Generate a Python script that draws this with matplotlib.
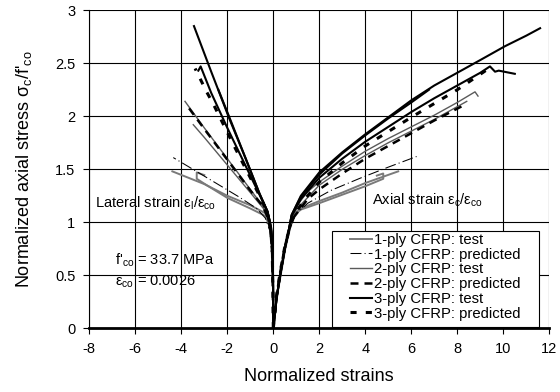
import numpy as np
import matplotlib
matplotlib.use("Agg")
import matplotlib.pyplot as plt
from matplotlib.patches import Rectangle

plt.rcParams['font.family'] = ['Liberation Sans', 'DejaVu Sans']
plt.rcParams['mathtext.fontset'] = 'custom'
plt.rcParams['mathtext.rm'] = 'Liberation Sans'

# Data (normalized strain, normalized stress)
# lateral side (negative strains)
lat_1ply_test_a_x = [0, -0.01, -0.03, -0.07, -0.15, -0.3, -1.0, -2.0, -3.0, -4.39]
lat_1ply_test_a_y = [0, 0.3, 0.6, 0.85, 0.98, 1.08, 1.16, 1.25, 1.36, 1.48]
lat_1ply_test_b_x = [0, -0.01, -0.03, -0.07, -0.18, -0.35, -1.0, -2.0, -2.9, -3.33, -3.33, -3.0]
lat_1ply_test_b_y = [0, 0.3, 0.6, 0.85, 0.97, 1.06, 1.13, 1.23, 1.35, 1.41, 1.47, 1.445]
lat_1ply_pred_x = [0, -0.02, -0.06, -0.15, -0.35, -0.72, -1.5, -2.5, -3.5, -4.35]
lat_1ply_pred_y = [0, 0.35, 0.7, 0.92, 1.04, 1.13, 1.24, 1.37, 1.5, 1.61]

lat_2ply_test_a_x = [0, -0.01, -0.04, -0.1, -0.25, -0.45, -1.0, -2.0, -3.0, -3.84]
lat_2ply_test_a_y = [0, 0.35, 0.7, 0.92, 1.06, 1.15, 1.31, 1.6, 1.89, 2.14]
lat_2ply_test_b_x = [0, -0.01, -0.04, -0.1, -0.25, -0.43, -1.0, -2.0, -3.0, -3.48]
lat_2ply_test_b_y = [0, 0.35, 0.7, 0.92, 1.05, 1.13, 1.28, 1.54, 1.8, 1.92]
lat_2ply_pred_x = [0, -0.02, -0.05, -0.12, -0.25, -0.45, -1.0, -2.0, -3.0, -3.75]
lat_2ply_pred_y = [0, 0.35, 0.7, 0.92, 1.05, 1.15, 1.3, 1.59, 1.88, 2.1]

lat_3ply_test_a_x = [0, -0.01, -0.04, -0.1, -0.25, -0.6, -1.2, -1.88, -2.7, -3.45]
lat_3ply_test_a_y = [0, 0.4, 0.75, 0.95, 1.1, 1.27, 1.6, 1.96, 2.42, 2.85]
lat_3ply_test_b_x = [0, -0.01, -0.04, -0.1, -0.25, -0.6, -1.2, -2.0, -2.7, -3.16, -3.26]
lat_3ply_test_b_y = [0, 0.4, 0.75, 0.95, 1.1, 1.26, 1.53, 1.89, 2.22, 2.47, 2.43]
lat_3ply_test_c_x = [0, -0.01, -0.04, -0.1, -0.25, -0.6, -1.2, -1.8, -2.39]
lat_3ply_test_c_y = [0, 0.4, 0.75, 0.95, 1.1, 1.27, 1.6, 1.93, 2.25]
lat_3ply_pred_x = [0, -0.02, -0.05, -0.12, -0.25, -0.5, -1.0, -1.8, -2.62, -2.9, -3.4]
lat_3ply_pred_y = [0, 0.4, 0.75, 0.95, 1.08, 1.21, 1.42, 1.76, 2.12, 2.23, 2.45]

# axial side (positive strains)
ax_1ply_test_a_x = [0, 0.15, 0.3, 0.5, 0.65, 0.8, 1.2, 2.0, 3.0, 4.0, 5.43]
ax_1ply_test_a_y = [0, 0.3, 0.5, 0.75, 0.9, 1.06, 1.13, 1.2, 1.28, 1.37, 1.48]
ax_1ply_test_b_x = [0, 0.16, 0.32, 0.52, 0.68, 0.85, 1.2, 2.0, 3.0, 4.0, 4.78, 4.78, 4.5]
ax_1ply_test_b_y = [0, 0.3, 0.5, 0.75, 0.9, 1.06, 1.12, 1.18, 1.26, 1.34, 1.41, 1.46, 1.44]
ax_1ply_pred_x = [0, 0.15, 0.3, 0.5, 0.65, 0.9, 1.5, 2.5, 3.77, 5.0, 6.23]
ax_1ply_pred_y = [0, 0.32, 0.53, 0.77, 0.92, 1.06, 1.18, 1.3, 1.415, 1.52, 1.62]

ax_2ply_test_a_x = [0, 0.15, 0.3, 0.5, 0.65, 0.8, 1.0, 1.5, 2.0, 3.0, 4.0, 5.0, 6.0, 7.0, 8.0, 8.77, 8.9]
ax_2ply_test_a_y = [0, 0.3, 0.5, 0.75, 0.9, 1.05, 1.15, 1.29, 1.38, 1.53, 1.67, 1.79, 1.9, 2.01, 2.13, 2.23, 2.19]
ax_2ply_test_b_x = [0, 0.15, 0.3, 0.5, 0.65, 0.82, 1.0, 2.0, 3.0, 4.0, 5.0, 6.0, 7.0, 8.41]
ax_2ply_test_b_y = [0, 0.3, 0.5, 0.75, 0.9, 1.05, 1.12, 1.35, 1.5, 1.63, 1.75, 1.86, 1.97, 2.14]
ax_2ply_pred_x = [0, 0.15, 0.3, 0.5, 0.7, 0.9, 1.5, 2.0, 3.0, 4.0, 5.0, 6.0, 7.0, 8.25]
ax_2ply_pred_y = [0, 0.32, 0.53, 0.77, 0.94, 1.05, 1.22, 1.31, 1.46, 1.6, 1.72, 1.84, 1.96, 2.1]

ax_3ply_test_a_x = [0, 0.15, 0.3, 0.5, 0.65, 0.8, 1.2, 2.0, 3.0, 4.0, 5.0, 6.0, 7.0, 8.0, 9.0, 10.07, 11.0, 11.6]
ax_3ply_test_a_y = [0, 0.3, 0.5, 0.75, 0.9, 1.07, 1.25, 1.47, 1.66, 1.83, 1.99, 2.15, 2.29, 2.41, 2.53, 2.66, 2.76, 2.83]
ax_3ply_test_b_x = [0, 0.15, 0.3, 0.5, 0.65, 0.8, 1.2, 2.0, 3.0, 4.0, 5.0, 6.0, 7.0, 8.0, 9.0, 9.42, 9.64, 9.8, 10.5]
ax_3ply_test_b_y = [0, 0.3, 0.5, 0.75, 0.9, 1.06, 1.22, 1.42, 1.6, 1.76, 1.9, 2.04, 2.17, 2.29, 2.41, 2.47, 2.42, 2.43, 2.4]
ax_3ply_test_c_x = [0, 0.15, 0.3, 0.5, 0.65, 0.8, 1.2, 2.0, 3.0, 4.0, 5.0, 6.0, 6.77]
ax_3ply_test_c_y = [0, 0.3, 0.5, 0.75, 0.9, 1.07, 1.24, 1.45, 1.65, 1.82, 1.98, 2.13, 2.25]
ax_3ply_pred_x = [0, 0.15, 0.3, 0.5, 0.7, 0.9, 1.3, 2.0, 3.0, 4.0, 6.0, 8.0, 9.3]
ax_3ply_pred_y = [0, 0.32, 0.53, 0.77, 0.94, 1.06, 1.2, 1.38, 1.56, 1.72, 1.99, 2.25, 2.44]

x_ticks = [-8, -6, -4, -2, 0, 2, 4, 6, 8, 10, 12]
y_ticks = [0, 0.5, 1, 1.5, 2, 2.5, 3]
y_tick_labels = ['0', '0.5', '1', '1.5', '2', '2.5', '3']

fig = plt.figure(figsize=(5.6, 3.92), dpi=100)
ax = fig.add_axes([0.1595, 0.1625, 0.8214, 0.8115])

# styles
s1t = dict(color='#7a7a7a', lw=1.4)
s1p = dict(color='black', lw=0.75, dashes=(10.5, 3, 1, 3))
s2t = dict(color='#5a5a5a', lw=1.0)
s2p = dict(color='black', lw=1.8, dashes=(3.2, 2.4))
s3t = dict(color='black', lw=1.5)
s3p = dict(color='black', lw=2.2, dashes=(2.0, 3.0))

ax.plot(lat_1ply_test_a_x, lat_1ply_test_a_y, label='1-ply CFRP: test', **s1t)
ax.plot(lat_1ply_test_b_x, lat_1ply_test_b_y, **s1t)
ax.plot(ax_1ply_test_a_x, ax_1ply_test_a_y, **s1t)
ax.plot(ax_1ply_test_b_x, ax_1ply_test_b_y, **s1t)
ax.plot(lat_1ply_pred_x, lat_1ply_pred_y, label='1-ply CFRP: predicted', **s1p)
ax.plot(ax_1ply_pred_x, ax_1ply_pred_y, **s1p)

ax.plot(lat_2ply_test_a_x, lat_2ply_test_a_y, label='2-ply CFRP: test', **s2t)
ax.plot(lat_2ply_test_b_x, lat_2ply_test_b_y, **s2t)
ax.plot(ax_2ply_test_a_x, ax_2ply_test_a_y, **s2t)
ax.plot(ax_2ply_test_b_x, ax_2ply_test_b_y, **s2t)
ax.plot(lat_2ply_pred_x, lat_2ply_pred_y, label='2-ply CFRP: predicted', **s2p)
ax.plot(ax_2ply_pred_x, ax_2ply_pred_y, **s2p)

ax.plot(lat_3ply_test_a_x, lat_3ply_test_a_y, label='3-ply CFRP: test', **s3t)
ax.plot(lat_3ply_test_b_x, lat_3ply_test_b_y, **s3t)
ax.plot(lat_3ply_test_c_x, lat_3ply_test_c_y, **s3t)
ax.plot(ax_3ply_test_a_x, ax_3ply_test_a_y, **s3t)
ax.plot(ax_3ply_test_b_x, ax_3ply_test_b_y, **s3t)
ax.plot(ax_3ply_test_c_x, ax_3ply_test_c_y, **s3t)
ax.plot(lat_3ply_pred_x, lat_3ply_pred_y, label='3-ply CFRP: predicted', **s3p)
ax.plot(ax_3ply_pred_x, ax_3ply_pred_y, **s3p)

ax.set_xlim(-8, 12)
ax.set_ylim(0, 3)
ax.set_xticks(x_ticks)
ax.set_xticklabels([str(v) for v in x_ticks])
ax.set_yticks(y_ticks)
ax.set_yticklabels(y_tick_labels)
ax.grid(True, color='black', lw=0.8)
ax.set_axisbelow(True)
ax.tick_params(direction='out', length=4, width=0.8, labelsize=10.5, pad=6)
for side in ['top', 'right']:
    ax.spines[side].set_visible(False)
ax.spines['left'].set_linewidth(0.8)
ax.spines['bottom'].set_linewidth(2.0)
ax.spines['bottom'].set_zorder(6)

ax.set_xlabel('Normalized strains', fontsize=13)
ax.set_ylabel("Normalized axial stress σ$_\\mathregular{c}$/f'$_\\mathregular{co}$", fontsize=13)
ax.xaxis.set_label_coords(0.5, -0.125)
ax.yaxis.set_label_coords(-0.12, 0.5)

ax.text(-7.75, 1.18, 'Lateral strain ε$_\\mathregular{l}$/ε$_\\mathregular{co}$', fontsize=10.5, va='center')
ax.text(4.28, 1.21, 'Axial strain ε$_\\mathregular{c}$/ε$_\\mathregular{co}$', fontsize=10.5, va='center')
ax.text(-6.88, 0.64, "f'$_\\mathregular{co}$ = 33.7 MPa", fontsize=10.5, va='center')
ax.text(-6.88, 0.44, 'ε$_\\mathregular{co}$ = 0.0026', fontsize=10.5, va='center')

# legend box drawn separately (wide padding as in the original)
ax.add_patch(Rectangle((2.54, 0.012), 9.03, 0.908, facecolor='white',
                       edgecolor='black', lw=0.8, zorder=4))
leg = ax.legend(loc='upper left', bbox_to_anchor=(0.567, 0.30), fontsize=10.75,
                frameon=False, borderaxespad=0, borderpad=0, labelspacing=0.05,
                handlelength=1.45, handletextpad=0.15)
leg.set_zorder(5)

fig.savefig('out.png', dpi=100)
